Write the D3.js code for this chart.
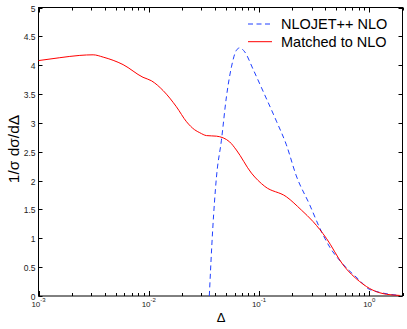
<!DOCTYPE html>
<html>
<head>
<meta charset="utf-8">
<script src="https://cdn.jsdelivr.net/npm/d3@7"></script>
<style>
  body { margin: 0; background: #fff; }
  svg { display: block; font-family: "Liberation Sans", Arial, sans-serif; }
</style>
</head>
<body>
<svg id="chart" width="407" height="329"></svg>
<script>
// Matched to NLO (red, solid)
const matchedX = [0.001, 0.00156, 0.00237, 0.00313, 0.00386, 0.00585, 0.00887, 0.01057, 0.0135, 0.0178,
  0.0220, 0.0261, 0.0290, 0.0334, 0.0411, 0.0542, 0.0623, 0.0853, 0.1127, 0.177,
  0.242, 0.309, 0.408, 0.578, 0.818, 1.08, 1.43, 1.89];
const matchedY = [4.08, 4.13, 4.17, 4.18, 4.14, 4.01, 3.79, 3.73, 3.56, 3.28,
  3.02, 2.88, 2.83, 2.78, 2.77, 2.67, 2.53, 2.13, 1.90, 1.72,
  1.49, 1.29, 1.00, 0.54, 0.25, 0.10, 0.03, 0.01];

// NLOJET++ NLO (blue, dashed)
const nloX = [0.0354, 0.0380, 0.0411, 0.0456, 0.0506, 0.0562, 0.0624, 0.0668, 0.0742, 0.0883,
  0.1087, 0.1438, 0.177, 0.218, 0.288, 0.355, 0.437, 0.578, 0.818, 0.973, 1.2, 1.53, 1.89];
const nloY = [0.0, 1.15, 2.06, 2.70, 3.45, 3.97, 4.26, 4.30, 4.23, 3.93,
  3.55, 3.03, 2.62, 2.08, 1.58, 1.18, 0.85, 0.55, 0.27, 0.13, 0.07, 0.03, 0.01];

const yTicks = [0, 0.5, 1, 1.5, 2, 2.5, 3, 3.5, 4, 4.5, 5];
const xMajor = [-3, -2, -1, 0];
const legendLabels = ["NLOJET++ NLO", "Matched to NLO"];

const svg = d3.select("#chart");
const L = 38.5, R = 402.5, T = 7.5, B = 296;

const x = d3.scaleLog().domain([1e-3, 2]).range([L, R]);
const y = d3.scaleLinear().domain([0, 5]).range([B, T]);

// box
svg.append("rect")
  .attr("x", L).attr("y", T)
  .attr("width", R - L).attr("height", B - T)
  .attr("fill", "none").attr("stroke", "#000").attr("stroke-width", 1);

// x ticks (inside, bottom and top)
const xt = x.ticks().filter(d => d <= 2);
const isMajor = d => Math.abs(Math.log10(d) - Math.round(Math.log10(d))) < 1e-9;
xt.forEach(d => {
  const px = Math.round(x(d)) + 0.5;
  const len = isMajor(d) ? 5 : 3;
  svg.append("line").attr("x1", px).attr("x2", px).attr("y1", B).attr("y2", B - len)
    .attr("stroke", "#000");
  svg.append("line").attr("x1", px).attr("x2", px).attr("y1", T).attr("y2", T + len)
    .attr("stroke", "#000");
});

// x labels 10^n
xMajor.forEach(e => {
  const t = svg.append("text")
    .attr("x", x(Math.pow(10, e)))
    .attr("y", 307)
    .attr("text-anchor", "middle")
    .attr("font-size", 8)
    .attr("fill", "#222");
  t.append("tspan").text("10");
  t.append("tspan").attr("dy", -5).attr("font-size", 6).text(e);
});

// y ticks (inside, left and right)
yTicks.forEach(v => {
  const py = Math.round(y(v)) + 0.5;
  svg.append("line").attr("x1", L).attr("x2", L + 4).attr("y1", py).attr("y2", py)
    .attr("stroke", "#000");
  svg.append("line").attr("x1", R).attr("x2", R - 4).attr("y1", py).attr("y2", py)
    .attr("stroke", "#000");
  svg.append("text")
    .attr("x", 35.5).attr("y", py + 3)
    .attr("text-anchor", "end")
    .attr("font-size", 8.5)
    .attr("fill", "#222")
    .text(v);
});

const line = d3.line().x(d => x(d[0])).y(d => y(d[1])).curve(d3.curveMonotoneX);

svg.append("path")
  .datum(nloX.map((d, i) => [d, nloY[i]]))
  .attr("d", line)
  .attr("fill", "none")
  .attr("stroke", "#1f3fff")
  .attr("stroke-width", 1)
  .attr("stroke-dasharray", "5,3.5");

svg.append("path")
  .datum(matchedX.map((d, i) => [d, matchedY[i]]))
  .attr("d", line)
  .attr("fill", "none")
  .attr("stroke", "#ff0000")
  .attr("stroke-width", 1);

// legend
const legend = svg.append("g");
legendLabels.forEach((lab, i) => {
  const cy = 24 + i * 17.7;
  legend.append("line")
    .attr("x1", 248).attr("x2", 272).attr("y1", cy).attr("y2", cy)
    .attr("stroke", i === 0 ? "#1f3fff" : "#ff0000")
    .attr("stroke-dasharray", i === 0 ? "5,3.5" : null);
  legend.append("text")
    .attr("x", 281).attr("y", cy + 5.3)
    .attr("font-size", 14.5)
    .text(lab);
});

// axis titles
svg.append("text")
  .attr("transform", "translate(19,149) rotate(-90)")
  .attr("text-anchor", "middle")
  .attr("font-size", 15.5)
  .text("1/σ dσ/dΔ");

svg.append("text")
  .attr("x", 221).attr("y", 322)
  .attr("text-anchor", "middle")
  .attr("font-size", 13)
  .text("Δ");
</script>
</body>
</html>
